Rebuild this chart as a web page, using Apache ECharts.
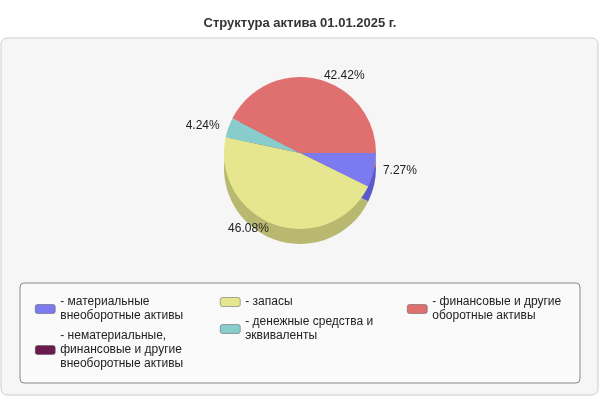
<!DOCTYPE html><html><head><meta charset="utf-8"><script src="https://cdn.jsdelivr.net/npm/echarts@6/dist/echarts.min.js"></script></head><body style="margin:0"><div id="c" style="width:600px;height:400px"></div><script>
const names=['- материальные\nвнеоборотные активы','- нематериальные,\nфинансовые и другие\nвнеоборотные активы','- запасы','- денежные средства и\nэквиваленты','- финансовые и другие\nоборотные активы'];
const values=[7.27,0,46.08,4.24,42.42];
const colors=['#7b7bef','#6b1a4e','#e6e68f','#88cccc','#e07070'];
const dark=['#5a5acc','#4a1036','#b8b870','#66a0a0','#b85858'];
const data=names.map((n,i)=>({name:n,value:values[i],itemStyle:{color:colors[i]},label:{show:values[i]>0}}));
const ddata=names.map((n,i)=>({name:'d'+i,value:values[i],itemStyle:{color:dark[i]}})).filter(d=>d.value>0);
const c=echarts.init(document.getElementById('c'));
const lg=(d,l)=>({data:d.map(i=>({name:names[i],itemStyle:{color:colors[i],borderColor:'#555',borderWidth:0.5}})),left:l,top:290,orient:'vertical',itemWidth:20,itemHeight:9,itemGap:6,icon:'roundRect',textStyle:{fontSize:12,color:'#222',lineHeight:14,fontFamily:'Arial'},selectedMode:false});
c.setOption({
title:{text:'Структура актива 01.01.2025 г.',left:'center',top:12,textStyle:{fontSize:13,fontWeight:'bold',color:'#333',fontFamily:'Arial'}},
graphic:[{type:'rect',shape:{x:1,y:38,width:597,height:357,r:6},style:{fill:'#f6f6f6',stroke:'#ccc'},z:-10},
{type:'rect',shape:{x:20,y:283,width:560,height:100,r:4},style:{fill:'#fafafa',stroke:'#888'},z:-9}],
legend:[lg([0,1],30),lg([2,3],215),lg([4],402)],
series:[
{type:'pie',center:[300,153],radius:76,startAngle:0,clockwise:true,data:data,z:2,stillShowZeroSum:false,
label:{formatter:p=>p.value.toFixed(2)+'%',fontSize:12,color:'#222',fontFamily:'Arial'},labelLine:{show:false,length:4,length2:0},itemStyle:{borderWidth:0}},
{type:'pie',center:[300,168],radius:76,startAngle:0,clockwise:true,data:ddata,label:{show:false},silent:true,z:1,legendHoverLink:false}]
});
</script></body></html>
